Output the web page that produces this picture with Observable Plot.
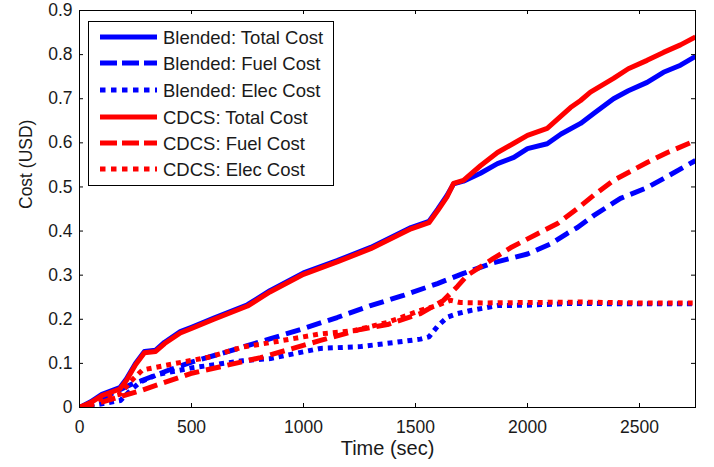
<!DOCTYPE html>
<html>
<head>
<meta charset="utf-8">
<script src="https://cdn.jsdelivr.net/npm/d3@7"></script>
<script src="https://cdn.jsdelivr.net/npm/@observablehq/plot@0.6"></script>
<style>
  html, body { margin: 0; padding: 0; background: white; }
</style>
</head>
<body>
<div id="chart"></div>
<script>
// ---- data ----
const xTicks = [0, 500, 1000, 1500, 2000, 2500];
const yTicks = [0, 0.1, 0.2, 0.3, 0.4, 0.5, 0.6, 0.7, 0.8, 0.9];
const xLabel = "Time (sec)";
const yLabel = "Cost (USD)";
const seriesNames = ["Blended: Total Cost", "Blended: Fuel Cost", "Blended: Elec Cost",
                     "CDCS: Total Cost", "CDCS: Fuel Cost", "CDCS: Elec Cost"];

const blendedTotalT = [0, 50, 100, 180, 210, 250, 290, 340, 380, 450, 500, 600, 750, 850, 1000, 1150, 1300, 1480, 1560, 1600, 1640, 1670, 1714, 1790, 1866, 1939, 2000, 2088, 2150, 2237, 2300, 2384, 2450, 2534, 2607, 2683, 2750];
const blendedTotalV = [0, 0.013, 0.03, 0.045, 0.065, 0.1, 0.127, 0.13, 0.148, 0.172, 0.182, 0.203, 0.233, 0.265, 0.305, 0.333, 0.363, 0.408, 0.422, 0.45, 0.48, 0.507, 0.513, 0.531, 0.553, 0.567, 0.587, 0.598, 0.62, 0.644, 0.668, 0.7, 0.718, 0.737, 0.76, 0.776, 0.796];

const cdcsTotalT = [0, 50, 100, 180, 210, 250, 290, 340, 380, 450, 500, 600, 750, 850, 1000, 1150, 1300, 1480, 1560, 1600, 1640, 1670, 1714, 1790, 1866, 1939, 2000, 2088, 2192, 2237, 2281, 2384, 2450, 2534, 2607, 2683, 2750];
const cdcsTotalV = [0, 0.011, 0.027, 0.042, 0.062, 0.097, 0.124, 0.127, 0.145, 0.169, 0.179, 0.2, 0.23, 0.262, 0.302, 0.33, 0.36, 0.405, 0.419, 0.447, 0.477, 0.508, 0.515, 0.548, 0.578, 0.599, 0.617, 0.633, 0.68, 0.696, 0.715, 0.746, 0.768, 0.787, 0.805, 0.822, 0.84];

const blendedFuelT = [0, 100, 138, 237, 272, 400, 500, 650, 853, 1000, 1150, 1299, 1446, 1598, 1714, 1848, 2000, 2103, 2178, 2223, 2295, 2415, 2536, 2607, 2750];
const blendedFuelV = [0, 0.015, 0.03, 0.054, 0.06, 0.085, 0.103, 0.125, 0.156, 0.179, 0.204, 0.231, 0.254, 0.281, 0.304, 0.328, 0.348, 0.371, 0.395, 0.408, 0.435, 0.474, 0.499, 0.519, 0.56];

const cdcsFuelT = [0, 100, 272, 496, 808, 1076, 1254, 1375, 1522, 1625, 1688, 1732, 1800, 1848, 1924, 2045, 2134, 2223, 2295, 2384, 2536, 2625, 2750];
const cdcsFuelV = [0, 0.012, 0.038, 0.077, 0.113, 0.152, 0.177, 0.188, 0.213, 0.243, 0.275, 0.3, 0.322, 0.338, 0.362, 0.394, 0.417, 0.451, 0.481, 0.515, 0.556, 0.578, 0.605];

const blendedElecT = [0, 94, 183, 230, 272, 350, 504, 728, 853, 1076, 1254, 1400, 1522, 1560, 1600, 1643, 1688, 1746, 1866, 2000, 2200, 2500, 2750];
const blendedElecV = [0, 0.008, 0.016, 0.04, 0.058, 0.075, 0.09, 0.106, 0.111, 0.134, 0.138, 0.147, 0.155, 0.16, 0.185, 0.205, 0.213, 0.22, 0.231, 0.232, 0.236, 0.235, 0.235];

const cdcsElecT = [0, 100, 180, 230, 281, 429, 576, 728, 862, 1076, 1223, 1375, 1522, 1600, 1656, 1700, 1804, 2000, 2250, 2500, 2750];
const cdcsElecV = [0, 0.02, 0.03, 0.06, 0.085, 0.1, 0.114, 0.137, 0.148, 0.167, 0.174, 0.193, 0.22, 0.232, 0.243, 0.238, 0.237, 0.238, 0.239, 0.237, 0.237];

// ---- build tables ----
const zip = (ts, vs) => ts.map((t, i) => ({t, v: vs[i]}));
const BLUE = "#0000ff", RED = "#ff0000";
const DASH = "15,7", DOT = "5,5";
const series = [
  {name: seriesNames[0], data: zip(blendedTotalT, blendedTotalV), stroke: BLUE, dash: null},
  {name: seriesNames[1], data: zip(blendedFuelT, blendedFuelV), stroke: BLUE, dash: DASH},
  {name: seriesNames[2], data: zip(blendedElecT, blendedElecV), stroke: BLUE, dash: DOT},
  {name: seriesNames[3], data: zip(cdcsTotalT, cdcsTotalV), stroke: RED, dash: null},
  {name: seriesNames[4], data: zip(cdcsFuelT, cdcsFuelV), stroke: RED, dash: DASH},
  {name: seriesNames[5], data: zip(cdcsElecT, cdcsElecV), stroke: RED, dash: DOT}
];

const W = 714, H = 467, mL = 79, mR = 19, mT = 10, mB = 60;
const innerH = H - mT - mB, innerW = W - mL - mR, tk = 4;

const chart = Plot.plot({
  width: W, height: H,
  marginLeft: mL, marginRight: mR, marginTop: mT, marginBottom: mB,
  style: {fontFamily: "'Liberation Sans', Arial, sans-serif", fontSize: "17px", color: "#1a1a1a", background: "white"},
  x: {domain: [0, 2750]},
  y: {domain: [0, 0.9]},
  marks: [
    Plot.axisX({ticks: xTicks, tickSize: 0, tickPadding: 13, label: null, tickFormat: d => String(d), fontSize: 17.5}),
    Plot.axisY({ticks: yTicks, tickSize: 0, tickPadding: 7, label: null, tickFormat: d => String(d), fontSize: 17.5}),
    ...series.map(s => Plot.line(s.data, {
      x: "t", y: "v", stroke: s.stroke, strokeWidth: 5,
      strokeDasharray: s.dash, strokeLinejoin: "round", strokeLinecap: "butt", clip: true
    })),
    Plot.tickX(xTicks, {x: d => d, insetTop: innerH - tk, stroke: "black", strokeWidth: 1}),
    Plot.tickX(xTicks, {x: d => d, insetBottom: innerH - tk, stroke: "black", strokeWidth: 1}),
    Plot.tickY(yTicks, {y: d => d, insetRight: innerW - tk, stroke: "black", strokeWidth: 1}),
    Plot.tickY(yTicks, {y: d => d, insetLeft: innerW - tk, stroke: "black", strokeWidth: 1}),
    Plot.frame({stroke: "black", strokeWidth: 1}),
    Plot.text([xLabel], {text: d => d, frameAnchor: "bottom", dy: 47, fontSize: 20, fill: "#1a1a1a"}),
    Plot.text([yLabel], {text: d => d, frameAnchor: "left", dx: -53, rotate: -90, fontSize: 17.5, fill: "#1a1a1a"})
  ]
});

// ---- legend inside the axes (top-left) ----
const svg = d3.select(chart);
const lg = svg.append("g").attr("class", "legend").attr("text-anchor", "start");
lg.append("rect").attr("x", 88.5).attr("y", 21.5).attr("width", 245).attr("height", 164)
  .attr("fill", "white").attr("stroke", "black").attr("stroke-width", 1);
const rowY = [37, 63, 90, 117, 143, 169];
series.forEach((s, i) => {
  lg.append("line").attr("x1", 100).attr("x2", 157).attr("y1", rowY[i]).attr("y2", rowY[i])
    .attr("stroke", s.stroke).attr("stroke-width", 5)
    .attr("stroke-dasharray", s.dash === DASH ? "17,5" : s.dash === DOT ? "5.5,5.5" : null);
  lg.append("text").attr("x", 163).attr("y", rowY[i]).attr("dy", "0.36em")
    .attr("text-anchor", "start")
    .attr("font-size", 18.5).attr("fill", "#1a1a1a").text(s.name);
});

document.getElementById("chart").appendChild(chart);
</script>
</body>
</html>
